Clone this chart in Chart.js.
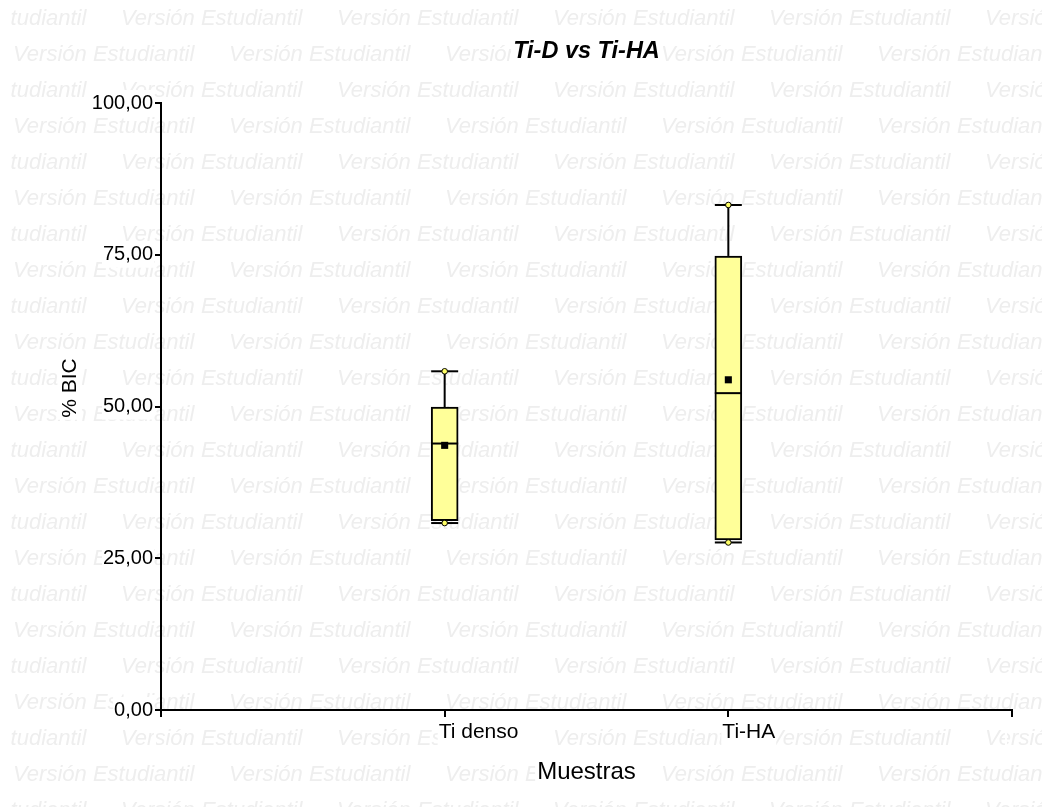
<!DOCTYPE html>
<html>
<head>
<meta charset="utf-8">
<script src="https://cdn.jsdelivr.net/npm/chart.js@4"></script>
<style>
  html, body { margin: 0; padding: 0; background: #fff; }
</style>
</head>
<body>
<canvas id="myChart" width="1054" height="807"></canvas>
<script>
const categories = ["Ti denso", "Ti-HA"];
const mins = [30.8, 27.6];
const q1s = [31.2, 28.0];
const medians = [43.9, 52.2];
const means = [43.6, 54.4];
const q3s = [49.9, 74.8];
const maxs = [55.8, 83.2];
const yTicks = [0, 25, 50, 75, 100];
const xTicks = [0, 1, 2, 3];

const FONT = "'Liberation Sans', Arial, sans-serif";
const WATERMARK = "Versión Estudiantil";
const Y_TITLE = "% BIC";

const formatNum = (v) => v.toFixed(2).replace(".", ",");

// light grey "Versión Estudiantil" rows behind everything
const watermark = {
  id: "watermark",
  beforeDraw(chart) {
    const { ctx, width, height } = chart;
    ctx.save();
    ctx.fillStyle = "#fff";
    ctx.fillRect(0, 0, width, height);
    ctx.save();
    ctx.beginPath();
    ctx.rect(10, 0, 1032, height);
    ctx.clip();
    ctx.font = `italic 22px ${FONT}`;
    ctx.fillStyle = "#eeeeee";
    ctx.textBaseline = "alphabetic";
    for (let row = -1; row < 25; row++) {
      const y = 25 + row * 36;
      const shift = row % 2 === 0 ? -95 : 13;
      for (let x = shift; x < width; x += 216) {
        ctx.fillText(WATERMARK, x, y);
      }
    }
    ctx.restore();
    // white patches under the titles
    const clear = (text, font, cx, cy, rot, h) => {
      ctx.save();
      ctx.font = font;
      const w = ctx.measureText(text).width;
      ctx.translate(cx, cy);
      ctx.rotate(rot);
      ctx.fillStyle = "#fff";
      ctx.fillRect(-w / 2 - 2, -h / 2, w + 4, h);
      ctx.restore();
    };
    const area = chart.chartArea;
    const tb = chart.titleBlock;
    clear("Ti-D vs Ti-HA", `italic bold 23.5px ${FONT}`, (area.left + area.right) / 2, tb.top + tb.height / 2 - 1.5, 0, 24);
    clear("Muestras", `24px ${FONT}`, (area.left + area.right) / 2, 772, 0, 26);
    clear(Y_TITLE, `21px ${FONT}`, 70, 388, -Math.PI / 2, 24);
    ctx.restore();
  },
  afterDraw(chart) {
    const { ctx } = chart;
    ctx.save();
    ctx.translate(70, 388);
    ctx.rotate(-Math.PI / 2);
    ctx.font = `21px ${FONT}`;
    ctx.fillStyle = "#000";
    ctx.textAlign = "center";
    ctx.textBaseline = "middle";
    ctx.fillText(Y_TITLE, 0, 0);
    ctx.restore();
  },
};

// whiskers, caps and median lines, drawn right after the boxes
const boxLines = {
  id: "boxLines",
  afterDatasetDraw(chart, args) {
    if (args.index !== 0) return;
    const { ctx } = chart;
    const xs = chart.scales.x;
    const ys = chart.scales.y;
    const bars = chart.getDatasetMeta(0).data;
    ctx.save();
    ctx.strokeStyle = "#000";
    ctx.lineWidth = 2;
    categories.forEach((c, i) => {
      const x = xs.getPixelForValue(i + 1);
      const half = bars[i].width / 2;
      const seg = (x1, y1, x2, y2) => {
        ctx.beginPath();
        ctx.moveTo(x1, y1);
        ctx.lineTo(x2, y2);
        ctx.stroke();
      };
      seg(x, ys.getPixelForValue(q3s[i]), x, ys.getPixelForValue(maxs[i]));
      seg(x, ys.getPixelForValue(q1s[i]), x, ys.getPixelForValue(mins[i]));
      seg(x - half, ys.getPixelForValue(maxs[i]), x + half, ys.getPixelForValue(maxs[i]));
      seg(x - half, ys.getPixelForValue(mins[i]), x + half, ys.getPixelForValue(mins[i]));
      seg(x - half, ys.getPixelForValue(medians[i]), x + half, ys.getPixelForValue(medians[i]));
    });
    ctx.restore();
  },
};

const ctx = document.getElementById("myChart");

const myChart = new Chart(ctx, {
  data: {
    datasets: [
      {
        type: "bar",
        label: "Caja",
        data: categories.map((c, i) => ({ x: i + 1, y: [q1s[i], q3s[i]] })),
        backgroundColor: "#ffff99",
        borderColor: "#000",
        borderWidth: 2,
        borderSkipped: false,
        barThickness: 27,
        order: 2,
      },
      {
        type: "scatter",
        label: "Extremos",
        data: categories.flatMap((c, i) => [
          { x: i + 1, y: mins[i] },
          { x: i + 1, y: maxs[i] },
        ]),
        pointStyle: "circle",
        pointRadius: 2.8,
        backgroundColor: "#ffff66",
        borderColor: "#000",
        borderWidth: 1,
        order: 1,
      },
      {
        type: "scatter",
        label: "Media",
        data: categories.map((c, i) => ({ x: i + 1, y: means[i] })),
        pointStyle: "rect",
        pointRadius: 5,
        backgroundColor: "#000",
        borderWidth: 0,
        order: 0,
      },
    ],
  },
  options: {
    responsive: false,
    animation: false,
    layout: { padding: { top: 0, right: 42, bottom: 0, left: 0 } },
    plugins: {
      legend: { display: false },
      tooltip: { enabled: false },
      title: {
        display: true,
        text: "Ti-D vs Ti-HA",
        fullSize: false,
        color: "#000",
        font: { family: FONT, size: 23.5, style: "italic", weight: "bold" },
        padding: { top: 37.2, bottom: 37.6 },
      },
    },
    scales: {
      x: {
        type: "linear",
        min: 0,
        max: 3,
        offset: false,
        afterBuildTicks: (scale) => {
          scale.ticks = xTicks.map((v) => ({ value: v }));
        },
        afterFit: (scale) => {
          scale.height = 97;
        },
        border: { color: "#000", width: 2 },
        grid: { offset: false, drawOnChartArea: false, drawTicks: true, tickLength: 7, color: "#000", lineWidth: 2 },
        ticks: {
          autoSkip: false,
          maxRotation: 0,
          align: "start",
          labelOffset: -6,
          padding: 3,
          color: "#000",
          font: { family: FONT, size: 21 },
          showLabelBackdrop: true,
          backdropColor: "#fff",
          backdropPadding: 1,
          callback: (v) => categories[v - 1] ?? "",
        },
        title: {
          display: true,
          text: "Muestras",
          color: "#000",
          font: { family: FONT, size: 24 },
          padding: { top: 0, bottom: 20.6 },
        },
      },
      y: {
        type: "linear",
        min: 0,
        max: 100,
        afterBuildTicks: (scale) => {
          scale.ticks = yTicks.map((v) => ({ value: v }));
        },
        afterFit: (scale) => {
          scale.width = 161;
        },
        border: { color: "#000", width: 2 },
        grid: { drawOnChartArea: false, drawTicks: true, tickLength: 6, color: "#000", lineWidth: 2 },
        ticks: {
          padding: 2,
          color: "#000",
          font: { family: FONT, size: 20 },
          showLabelBackdrop: true,
          backdropColor: "#fff",
          backdropPadding: 1,
          callback: (v) => formatNum(v),
        },
      },
    },
  },
  plugins: [watermark, boxLines],
});
</script>
</body>
</html>
